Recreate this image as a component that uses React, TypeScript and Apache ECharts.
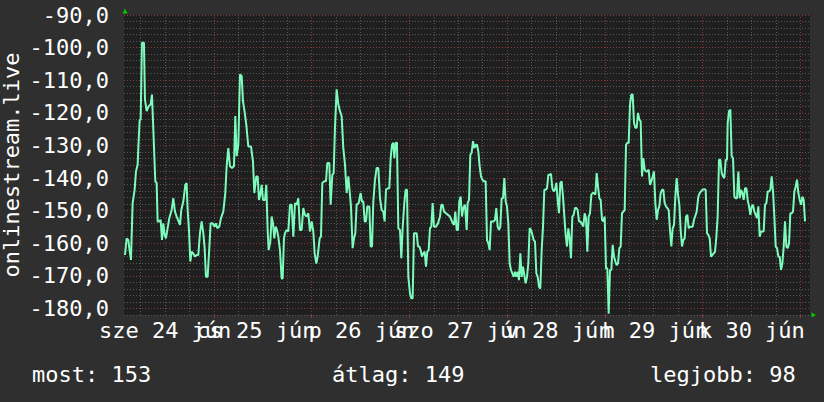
import React, { useEffect, useRef } from "react";
import * as echarts from "echarts";

// Time of each sample, in hours after midnight of 24 June
const hours = [
  2.14, 2.55, 2.96, 3.2, 3.61, 4.02, 4.51, 4.84, 5.25, 5.45, 5.75, 5.99, 6.31, 6.8, 7.05, 7.46, 7.95, 8.44, 8.77, 9.1,
  9.59, 9.92, 10.16, 10.57, 10.9, 11.23, 11.55, 11.88, 12.21, 12.54, 13.03, 13.6, 14.01, 14.42, 14.83, 15.32, 15.65, 15.97, 16.47, 16.96,
  17.28, 17.53, 17.86, 18.19, 18.51, 18.92, 19.33, 19.74, 20.15, 20.56, 20.97, 21.38, 21.71, 22.03, 22.44, 22.85, 23.18, 23.67, 24.16, 24.49,
  24.82, 25.31, 25.72, 26.29, 26.78, 27.11, 27.52, 27.93, 28.42, 28.91, 29.24, 29.57, 29.98, 30.39, 30.8, 31.12, 31.45, 31.94, 32.43, 33.09,
  33.58, 33.91, 34.4, 34.73, 35.05, 35.38, 35.71, 36.04, 36.53, 36.85, 37.18, 37.43, 37.84, 38.16, 38.49, 38.82, 39.15, 39.47, 39.8, 40.21,
  40.62, 40.87, 41.19, 41.44, 41.85, 42.26, 42.67, 43.08, 43.49, 43.9, 44.31, 44.72, 45.12, 45.53, 45.94, 46.35, 46.76, 47.17, 47.58, 47.99,
  48.4, 48.73, 49.14, 49.46, 49.96, 50.28, 50.61, 51.1, 51.51, 51.84, 52.33, 52.66, 53.07, 53.39, 53.72, 54.13, 54.54, 54.95, 55.36, 55.77,
  56.18, 56.59, 57.0, 57.33, 57.65, 58.06, 58.39, 58.72, 59.04, 59.54, 60.03, 60.35, 60.68, 61.01, 61.34, 61.66, 62.16, 62.48, 62.81, 63.14,
  63.55, 63.96, 64.37, 64.78, 65.19, 65.6, 65.92, 66.25, 66.74, 67.07, 67.4, 67.72, 68.05, 68.3, 68.62, 68.95, 69.28, 69.69, 70.02, 70.34,
  70.75, 71.08, 71.41, 71.74, 72.15, 72.47, 72.8, 73.13, 73.46, 73.78, 74.11, 74.44, 74.77, 75.09, 75.42, 75.75, 76.08, 76.4, 76.73, 77.06,
  77.39, 77.71, 78.04, 78.53, 79.02, 79.52, 79.84, 80.17, 80.5, 80.99, 81.48, 81.97, 82.46, 82.95, 83.28, 83.61, 83.94, 84.26, 84.59, 84.92,
  85.25, 85.66, 86.07, 86.31, 86.64, 86.97, 87.29, 87.62, 87.95, 88.28, 88.6, 88.93, 89.26, 89.59, 89.91, 90.24, 90.73, 91.06, 91.39, 91.72,
  92.04, 92.37, 92.7, 93.03, 93.35, 93.68, 94.01, 94.34, 94.66, 94.99, 95.32, 95.65, 95.97, 96.3, 96.63, 96.96, 97.28, 97.61, 97.94, 98.27,
  98.59, 98.92, 99.25, 99.58, 99.9, 100.23, 100.56, 100.89, 101.21, 101.54, 101.87, 102.2, 102.52, 102.85, 103.18, 103.51, 103.83, 104.16, 104.49, 104.82,
  105.14, 105.47, 105.8, 106.13, 106.45, 106.78, 107.11, 107.44, 107.76, 108.09, 108.42, 108.75, 109.07, 109.4, 109.73, 110.06, 110.38, 110.71, 111.04, 111.37,
  111.69, 112.02, 112.35, 112.68, 113.01, 113.33, 113.66, 113.99, 114.32, 114.72, 115.05, 115.38, 115.71, 116.03, 116.36, 116.69, 117.02, 117.34, 117.67, 118.0,
  118.33, 118.66, 118.98, 119.31, 119.64, 119.97, 120.29, 120.62, 120.95, 121.28, 121.6, 121.93, 122.26, 122.59, 122.91, 123.24, 123.57, 123.9, 124.22, 124.55,
  124.88, 125.21, 125.53, 125.86, 126.19, 126.52, 126.84, 127.17, 127.5, 127.83, 128.15, 128.48, 128.81, 129.14, 129.46, 129.79, 130.12, 130.45, 130.77, 131.1,
  131.43, 131.76, 132.08, 132.41, 132.74, 133.07, 133.39, 133.72, 134.05, 134.38, 134.7, 135.03, 135.36, 135.69, 136.01, 136.34, 136.67, 137.0, 137.32, 137.65,
  137.98, 138.31, 138.63, 138.96, 139.29, 139.62, 139.94, 140.27, 140.6, 140.93, 141.26, 141.58, 141.91, 142.57, 142.97, 143.3, 143.63, 143.96, 144.45, 144.78,
  145.1, 145.43, 145.76, 146.09, 146.41, 146.74, 147.07, 147.4, 147.72, 148.05, 148.38, 148.71, 149.03, 149.36, 149.69, 150.02, 150.18, 150.51, 150.84, 151.16,
  151.49, 151.82, 152.15, 152.47, 152.8, 153.13, 153.46, 153.78, 154.11, 154.44, 154.77, 155.09, 155.42, 155.75, 156.08, 156.4, 156.73, 157.06, 157.39, 157.71,
  158.04, 158.37, 158.7, 159.02, 159.35, 159.68, 160.01, 160.33, 160.66, 160.99, 161.32, 161.64, 161.97, 162.3, 162.63, 162.95, 163.28, 163.61, 163.94, 164.26,
  164.59, 164.92, 165.25, 165.57, 165.9, 166.23, 166.56, 166.88, 167.21, 167.54, 167.87, 168.2, 168.52, 168.85, 169.18,
];

// onlinestream.live signal values (dB)
const signal = [
  -163.6, -158.5, -159.0, -161.5, -165.1, -147.7, -143.6, -138.0, -135.9, -129.8, -122.1, -122.1, -98.5, -98.5, -115.9, -119.5, -118.0, -117.4, -114.4, -125.1,
  -141.0, -141.5, -153.3, -153.3, -152.8, -159.0, -153.9, -157.4, -158.5, -155.9, -152.3, -149.8, -146.2, -150.3, -151.8, -153.3, -154.4, -149.8, -147.2, -142.1,
  -141.5, -149.8, -155.9, -165.6, -162.6, -163.1, -164.1, -163.6, -163.6, -156.9, -153.3, -156.9, -161.5, -170.3, -170.3, -161.5, -153.9, -153.9, -154.9, -153.9,
  -155.4, -154.9, -152.3, -150.3, -144.6, -136.4, -130.8, -136.4, -136.9, -136.4, -121.0, -133.3, -129.8, -108.2, -108.7, -116.4, -119.0, -123.6, -130.3, -130.3,
  -134.9, -144.6, -139.5, -139.5, -146.7, -145.1, -142.1, -146.7, -146.7, -142.1, -155.9, -162.1, -159.5, -151.8, -153.9, -158.5, -154.9, -155.9, -158.0, -162.1,
  -170.8, -170.8, -158.5, -156.9, -155.9, -156.4, -148.2, -148.2, -158.0, -147.7, -148.2, -146.2, -155.9, -155.9, -149.2, -151.3, -151.8, -150.8, -156.4, -153.3,
  -156.4, -163.1, -166.2, -164.1, -158.5, -158.0, -141.5, -141.0, -141.0, -135.4, -135.4, -148.2, -139.0, -138.5, -124.6, -112.8, -117.4, -119.5, -121.0, -130.8,
  -135.9, -144.6, -139.5, -144.1, -148.7, -161.5, -158.5, -156.9, -148.2, -147.7, -144.6, -147.2, -147.2, -153.3, -153.3, -148.7, -148.7, -161.0, -161.0, -147.2,
  -140.5, -136.9, -136.9, -146.2, -149.8, -150.3, -153.3, -143.6, -143.1, -143.1, -133.9, -129.8, -129.2, -133.9, -129.2, -129.2, -155.4, -155.9, -164.6, -155.4,
  -147.7, -143.6, -143.6, -170.3, -175.4, -176.9, -176.9, -156.9, -156.9, -156.9, -161.0, -161.0, -162.1, -164.1, -163.1, -162.6, -167.2, -162.6, -162.1, -155.4,
  -154.9, -147.7, -154.9, -154.9, -153.9, -151.8, -148.2, -148.2, -150.3, -150.8, -151.3, -151.8, -153.3, -154.4, -150.3, -155.9, -155.9, -147.2, -145.7, -151.8,
  -149.2, -148.2, -155.9, -147.7, -146.7, -132.8, -132.3, -128.7, -130.8, -129.8, -129.8, -131.8, -136.4, -139.5, -140.5, -141.0, -141.0, -159.0, -160.0, -162.1,
  -153.3, -153.3, -153.3, -152.8, -149.2, -154.9, -155.9, -154.9, -146.2, -146.2, -140.0, -147.2, -148.7, -153.9, -166.2, -168.2, -169.2, -170.3, -168.7, -170.3,
  -168.7, -171.3, -163.1, -170.3, -167.2, -169.8, -172.3, -170.3, -166.2, -155.4, -155.9, -157.4, -159.0, -159.5, -169.2, -170.3, -173.3, -173.9, -162.1, -154.9,
  -143.6, -143.6, -143.1, -139.0, -139.0, -138.7, -143.1, -144.1, -143.6, -141.5, -146.7, -150.8, -141.5, -141.0, -145.7, -151.8, -157.4, -161.0, -155.4, -158.5,
  -164.6, -151.8, -151.3, -149.2, -149.2, -149.8, -153.3, -153.3, -153.9, -154.9, -150.8, -152.3, -162.6, -151.8, -150.8, -145.1, -144.6, -144.6, -145.1, -138.5,
  -142.6, -146.2, -146.7, -152.8, -153.3, -151.8, -167.7, -167.7, -181.6, -168.2, -168.2, -160.5, -164.1, -165.6, -166.7, -166.2, -161.5, -161.0, -150.8, -150.3,
  -149.8, -129.8, -129.2, -129.2, -117.4, -114.4, -114.4, -123.1, -124.6, -124.6, -120.0, -122.1, -122.6, -139.5, -133.9, -137.4, -138.0, -138.0, -137.4, -142.1,
  -141.0, -139.5, -138.0, -147.7, -152.8, -149.8, -148.7, -144.6, -143.6, -143.6, -147.7, -148.7, -149.2, -149.8, -155.9, -161.0, -155.4, -154.4, -145.7, -140.0,
  -145.1, -148.2, -155.9, -161.0, -159.0, -158.5, -151.8, -151.3, -155.4, -154.9, -154.9, -154.9, -152.8, -150.3, -145.7, -144.6, -144.1, -143.6, -143.4, -143.6,
  -156.9, -157.4, -158.5, -164.1, -163.6, -163.1, -162.6, -158.0, -151.8, -134.4, -134.4, -138.5, -139.5, -140.0, -134.4, -134.4, -123.1, -119.5, -119.0, -133.3,
  -133.9, -145.7, -146.2, -146.2, -138.0, -146.2, -143.6, -144.6, -146.7, -143.1, -143.1, -146.7, -148.7, -151.3, -148.7, -148.2, -150.3, -151.3, -152.3, -148.7,
  -158.0, -156.4, -156.4, -156.4, -148.2, -147.7, -144.1, -144.1, -143.6, -139.5, -144.1, -151.8, -161.0, -161.5, -164.1, -164.1, -168.2, -166.2, -161.0, -153.3,
  -161.0, -161.5, -160.0, -150.8, -150.8, -150.3, -144.1, -142.6, -140.5, -144.6, -146.7, -148.2, -145.7, -146.7, -153.3,
];

const dayLabels = ["sze 24 jún", "cs 25 jún", "p 26 jún", "szo 27 jún", "v 28 jún", "h 29 jún", "k 30 jún"];
const dayLabelHours = [12, 36, 60, 84, 108, 132, 156];
const yTickValues = [-180, -170, -160, -150, -140, -130, -120, -110, -100, -90];
const yAxisTitle = "onlinestream.live";
const statLabels = ["most", "átlag", "legjobb"];
const statValues = [153, 149, 98];

const X_MIN = 1.9;
const X_MAX = 170.4;
const Y_MIN = -182;
const Y_MAX = -90;

const FONT = "DejaVu Sans Mono";
const FONT_SIZE = 22;
const BG = "#2f2f2f";
const PLOT_BG = "#1f1f1f";
const GRAY = "#575757";
const RED = "#853a3a";
const LINE = "#7dfbbd";
const ARROW = "#00cc00";

// Horizontal placement nudges (px) so the labels overlap as in the original rendering
const labelShift = [0, -7, 1, 2, 2.5, 1.5, 0.5];

export default function App() {
  const ref = useRef<HTMLDivElement>(null);

  useEffect(() => {
    if (!ref.current) return;
    const chart = echarts.init(ref.current, undefined, { renderer: "svg" });

    const lineData = hours.map((h, i) => [h, signal[i]]);
    const midnights: number[] = [];
    const gridMarks: any[] = [];
    for (let h = 6; h < X_MAX; h += 6) {
      const isDay = h % 24 === 0;
      if (isDay) midnights.push(h);
      gridMarks.push({ xAxis: h, lineStyle: { color: isDay ? RED : GRAY, type: [1, 2], width: 1 } });
    }
    yTickValues.forEach((v) => gridMarks.push({ yAxis: v, lineStyle: { color: RED, type: [1, 2], width: 1 } }));

    const statX = [32, 332, 650];
    // empty edge labels keep the day labels away from ECharts' min/max-label overlap pruning
    const xLabelValues = [X_MIN, ...dayLabelHours, X_MAX];
    const rich: Record<string, any> = {};
    labelShift.forEach((s, i) => {
      rich["l" + i] = {
        fontFamily: FONT,
        fontSize: FONT_SIZE,
        color: "#ffffff",
        padding: s >= 0 ? [0, 0, 0, 2 * s] : [0, -2 * s, 0, 0],
      };
    });

    chart.setOption({
      animation: false,
      backgroundColor: BG,
      grid: { left: 124, right: 14, top: 15, bottom: 87, show: true, backgroundColor: PLOT_BG, borderWidth: 0 },
      xAxis: {
        type: "value",
        min: X_MIN,
        max: X_MAX,
        splitLine: { show: false },
        axisLine: { show: false },
        axisTick: { show: true, customValues: midnights, length: 3, lineStyle: { color: RED } },
        axisLabel: {
          customValues: xLabelValues,
          hideOverlap: false,
          formatter: (v: number) => {
            const i = dayLabelHours.findIndex((d) => Math.abs(d - v) < 1e-6);
            if (i < 0) return "";
            return `{l${i}|${dayLabels[i]}}`;
          },
          rich,
          color: "#ffffff",
          fontFamily: FONT,
          fontSize: FONT_SIZE,
          margin: 4,
        },
      },
      yAxis: {
        type: "value",
        min: Y_MIN,
        max: Y_MAX,
        interval: 2,
        splitLine: { show: true, lineStyle: { color: GRAY, type: [1, 2], width: 1 } },
        axisLine: { show: false },
        axisTick: { show: false },
        axisLabel: {
          customValues: yTickValues,
          showMinLabel: true,
          showMaxLabel: true,
          formatter: (v: number) => v.toFixed(1).replace(".", ","),
          color: "#ffffff",
          fontFamily: FONT,
          fontSize: FONT_SIZE,
          margin: 15,
        },
      },
      series: [
        {
          type: "line",
          z: 1,
          data: lineData,
          showSymbol: false,
          silent: true,
          lineStyle: { opacity: 0 },
          markLine: { silent: true, symbol: ["none", "none"], label: { show: false }, data: gridMarks },
        },
        {
          type: "line",
          z: 5,
          data: lineData,
          showSymbol: false,
          silent: true,
          lineStyle: { color: LINE, width: 2 },
        },
      ],
      graphic: [
        {
          type: "text",
          x: 11,
          y: 165,
          rotation: Math.PI / 2,
          style: { text: yAxisTitle, fill: "#ffffff", font: `${FONT_SIZE}px "${FONT}"`, align: "center", verticalAlign: "middle" },
        },
        ...statLabels.map((l, i) => ({
          type: "text",
          x: statX[i],
          y: 374.5,
          style: { text: `${l}: ${statValues[i]}`, fill: "#ffffff", font: `${FONT_SIZE}px "${FONT}"`, align: "left", verticalAlign: "middle" },
        })),
        { type: "polygon", shape: { points: [[122.5, 13.5], [127.5, 13.5], [125, 8.5]] }, style: { fill: ARROW } },
        { type: "polygon", shape: { points: [[811.5, 312.5], [811.5, 317.5], [816, 315]] }, style: { fill: ARROW } },
      ],
    });

    return () => chart.dispose();
  }, []);

  return <div ref={ref} style={{ position: "fixed", left: 0, top: 0, width: 824, height: 402 }} />;
}
